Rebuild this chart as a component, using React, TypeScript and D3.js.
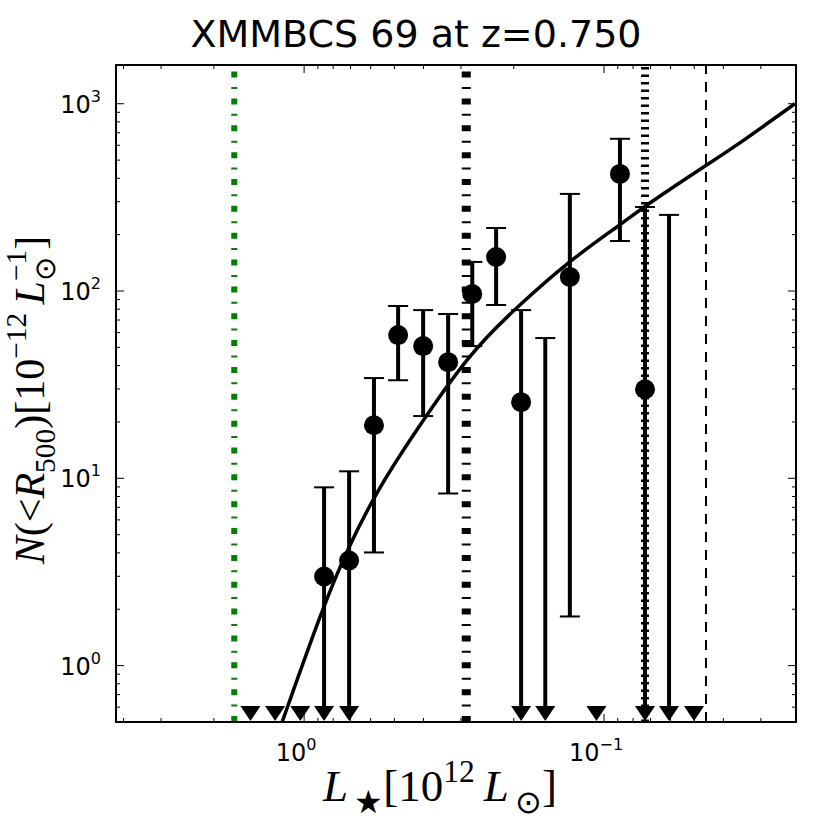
import React, { useEffect, useRef } from 'react';
import * as d3 from 'd3';

// luminosity bin centres [10^12 Lsun] (the axis runs from bright to faint)
const binL = [1.51, 1.25, 1.03, 0.858, 0.708, 0.585, 0.486, 0.401, 0.331, 0.275, 0.229, 0.189, 0.157, 0.130, 0.106, 0.0885, 0.0730, 0.0607, 0.0501];
// cumulative counts, 0 = nothing to plot
const counts = [0, 0, 0, 2.99, 3.64, 19.2, 58.2, 50.8, 41.7, 96.4, 152, 25.5, 0, 119, 0, 422, 29.9, 0, 0];
// upper end of error bar, 0 = none
const errHigh = [0, 0, 0, 8.95, 10.9, 34.3, 83.2, 79.1, 75.4, 143, 217, 79.1, 56.1, 330, 0, 650, 281, 255, 0];
// lower end of error bar, 0 = upper limit (arrow to the floor)
const errLow = [0, 0, 0, 0, 0, 4.02, 33.4, 21.5, 8.3, 50.8, 84.2, 0, 0, 1.83, 0, 185, 0, 0, 0];

// model curve
const modelL = [1.184, 0.864, 0.719, 0.571, 0.443, 0.280, 0.195, 0.130, 0.0885, 0.0730, 0.0457, 0.0380, 0.0231];
const modelN = [0.5, 2.07, 4.17, 8.6, 16.2, 47.2, 82.1, 146, 225, 285, 470, 565, 1000];

// vertical reference luminosities
const limitsL = [1.71, 0.288, 0.0730, 0.0457];

const xMajor = [1, 0.1];
const xMajorExp = ['0', '\u22121'];
const yMajor = [1, 10, 100, 1000];
const yMajorExp = ['0', '1', '2', '3'];

const xDomain: [number, number] = [4.24, 0.0229];
const yDomain: [number, number] = [0.5, 1610];

const W = 830;
const H = 830;

type Seg = { t: string; it?: boolean; lvl?: number; back?: boolean };

function mathText(text: any, segs: Seg[], size: number) {
  let cur = 0;
  let prev: any = null;
  segs.forEach(s => {
    const lvl = s.lvl ?? 0;
    const fs = lvl === 0 ? size : size * 0.7;
    const off = lvl === 1 ? -0.42 * size : lvl === -1 ? 0.27 * size : 0;
    const ts = text.append('tspan')
      .text(s.t)
      .attr('font-size', fs)
      .attr('font-style', s.it ? 'italic' : 'normal')
      .attr('dy', off - cur);
    if (s.back && prev) {
      ts.attr('dx', -(prev.node() as SVGTextContentElement).getComputedTextLength());
    }
    cur = off;
    prev = ts;
  });
}

const App: React.FC = () => {
  const svgRef = useRef<SVGSVGElement | null>(null);

  useEffect(() => {
    if (!svgRef.current) return;
    const svg = d3.select(svgRef.current);
    svg.selectAll('*').remove();

    const left = 116, right = 796, top = 65, bottom = 722;

    const x = d3.scaleLog().domain(xDomain).range([left, right]);
    const y = d3.scaleLog().domain(yDomain).range([bottom, top]);

    svg.append('rect').attr('width', W).attr('height', H).attr('fill', 'white');

    svg.append('defs').append('clipPath').attr('id', 'plotclip')
      .append('rect')
      .attr('x', left).attr('y', top)
      .attr('width', right - left).attr('height', bottom - top);

    const plot = svg.append('g').attr('clip-path', 'url(#plotclip)');

    // reference lines (drawn bottom -> top so the dash phase starts at the floor)
    const limitStyles = [
      { color: '#008000', width: 6, dash: '6 9.5 2 9.35' },
      { color: '#000', width: 9, dash: '6 9.5 2 9.35' },
      { color: '#000', width: 8, dash: '2.5 5' },
      { color: '#000', width: 2, dash: '10 8' },
    ];
    limitsL.forEach((L, i) => {
      const s = limitStyles[i];
      plot.append('line')
        .attr('x1', x(L)).attr('x2', x(L))
        .attr('y1', bottom).attr('y2', top)
        .attr('stroke', s.color)
        .attr('stroke-width', s.width)
        .attr('stroke-dasharray', s.dash);
    });

    // model
    const line = d3.line<number>()
      .x((d, i) => x(modelL[i]))
      .y(d => y(d))
      .curve(d3.curveBasis);
    plot.append('path')
      .datum(modelN)
      .attr('d', line)
      .attr('fill', 'none')
      .attr('stroke', '#000')
      .attr('stroke-width', 3.5);

    // error bars, limits and points
    const triH = 15, triW = 10, capW = 10;
    binL.forEach((L, i) => {
      const cx = x(L);
      const limit = errLow[i] <= 0;
      if (errHigh[i] > 0) {
        const yt = y(errHigh[i]);
        const yb = limit ? bottom - 4 : y(errLow[i]);
        plot.append('line')
          .attr('x1', cx).attr('x2', cx).attr('y1', yt).attr('y2', yb)
          .attr('stroke', '#000').attr('stroke-width', 4);
        plot.append('line')
          .attr('x1', cx - capW).attr('x2', cx + capW).attr('y1', yt).attr('y2', yt)
          .attr('stroke', '#000').attr('stroke-width', 2);
        if (!limit) {
          plot.append('line')
            .attr('x1', cx - capW).attr('x2', cx + capW).attr('y1', yb).attr('y2', yb)
            .attr('stroke', '#000').attr('stroke-width', 2);
        }
      }
      if (limit) {
        const yb = bottom - 1;
        plot.append('path')
          .attr('d', `M${cx - triW},${yb - triH}L${cx + triW},${yb - triH}L${cx},${yb}Z`)
          .attr('fill', '#000');
      }
      if (counts[i] > 0) {
        plot.append('circle')
          .attr('cx', cx).attr('cy', y(counts[i])).attr('r', 10)
          .attr('fill', '#000');
      }
    });

    // ticks (inward, all four sides)
    const ax = svg.append('g').attr('stroke', '#000').attr('stroke-width', 1);
    const xMinor = x.ticks().filter(v => !xMajor.some(m => Math.abs(m - v) < 1e-9));
    const yMinor = y.ticks().filter(v => !yMajor.some(m => Math.abs(m - v) < 1e-9))
      .filter(v => y(v) < bottom - 0.5 && y(v) > top + 0.5);
    const tick = (v: number, len: number) => {
      const px = x(v);
      ax.append('line').attr('x1', px).attr('x2', px).attr('y1', bottom).attr('y2', bottom - len);
      ax.append('line').attr('x1', px).attr('x2', px).attr('y1', top).attr('y2', top + len);
    };
    const ytick = (v: number, len: number) => {
      const py = y(v);
      ax.append('line').attr('x1', left).attr('x2', left + len).attr('y1', py).attr('y2', py);
      ax.append('line').attr('x1', right).attr('x2', right - len).attr('y1', py).attr('y2', py);
    };
    xMajor.forEach(v => tick(v, 8));
    xMinor.forEach(v => tick(v, 4));
    yMajor.forEach(v => ytick(v, 8));
    yMinor.forEach(v => ytick(v, 4));

    // frame
    svg.append('rect')
      .attr('x', left).attr('y', top)
      .attr('width', right - left).attr('height', bottom - top)
      .attr('fill', 'none').attr('stroke', '#000').attr('stroke-width', 2);

    // tick labels
    const tickFont = 'DejaVu Sans, sans-serif';
    xMajor.forEach((v, i) => {
      const t = svg.append('text')
        .attr('x', x(v) - 8).attr('y', 761)
        .attr('text-anchor', 'middle')
        .attr('font-family', tickFont).attr('font-size', 24);
      t.append('tspan').text('10');
      t.append('tspan').text(xMajorExp[i]).attr('font-size', 16).attr('dy', -11);
    });
    yMajor.forEach((v, i) => {
      const t = svg.append('text')
        .attr('x', 101).attr('y', y(v) + 9)
        .attr('text-anchor', 'end')
        .attr('font-family', tickFont).attr('font-size', 24);
      t.append('tspan').text('10');
      t.append('tspan').text(yMajorExp[i]).attr('font-size', 16).attr('dy', -11);
    });

    // title
    svg.append('text')
      .attr('x', 416).attr('y', 47)
      .attr('text-anchor', 'middle')
      .attr('font-family', tickFont).attr('font-size', 38)
      .text('XMMBCS 69 at z=0.750');

    // axis labels
    const mathFont = 'Liberation Serif, serif';
    const xl = svg.append('text')
      .attr('x', 440).attr('y', 801)
      .attr('text-anchor', 'middle')
      .attr('font-family', mathFont);
    mathText(xl, [
      { t: 'L', it: true },
      { t: '\u2009\u2605', lvl: -1 },
      { t: '[10' },
      { t: '12', lvl: 1 },
      { t: '\u2009L', it: true },
      { t: '\u2009\u2299', lvl: -1 },
      { t: ']' },
    ], 45);

    const yl = svg.append('text')
      .attr('transform', 'translate(44,400) rotate(-90)')
      .attr('text-anchor', 'middle')
      .attr('font-family', mathFont);
    mathText(yl, [
      { t: 'N', it: true },
      { t: '(<' },
      { t: 'R', it: true },
      { t: '500', lvl: -1 },
      { t: ')[10' },
      { t: '\u221212', lvl: 1 },
      { t: '\u2009L', it: true },
      { t: '\u2299', lvl: -1 },
      { t: '\u22121', lvl: 1, back: true },
      { t: ']' },
    ], 42);
  }, []);

  return (
    <svg
      ref={svgRef}
      width={W}
      height={H}
      style={{ position: 'absolute', left: 0, top: 0 }}
    />
  );
};

export default App;
